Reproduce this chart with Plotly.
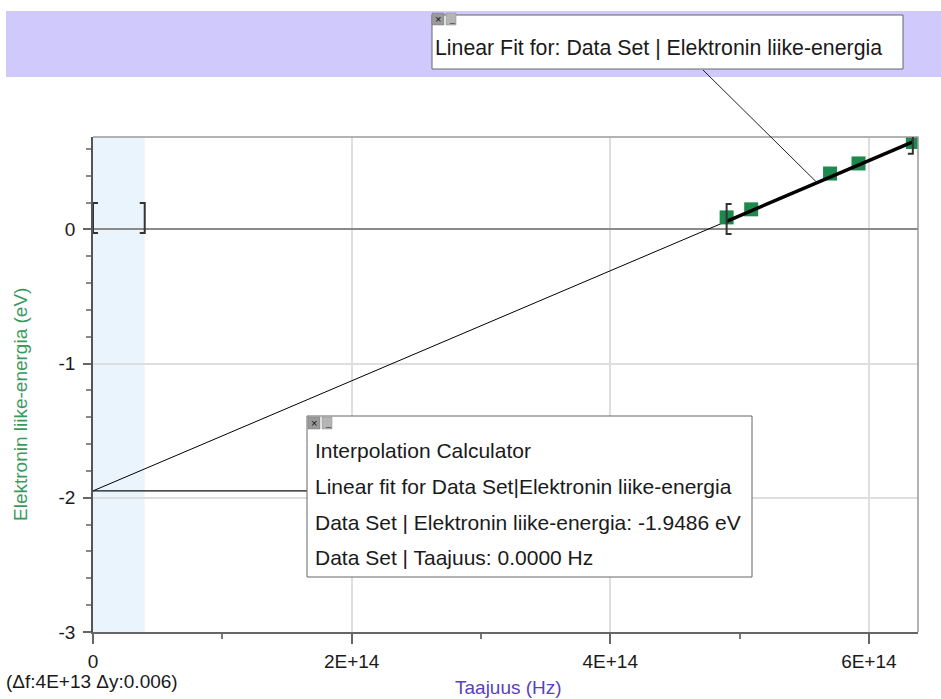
import plotly.graph_objects as go

# ---------------- data ----------------
freq_hz = [4.90e14, 5.09e14, 5.70e14, 5.92e14, 6.34e14]
energy_ev = [0.089, 0.149, 0.416, 0.491, 0.651]

fit_x = [0.0, 4.90e14, 6.34e14]
fit_y = [-1.9486, 0.060, 0.651]

interp_range = [0.0, 4.0e13]
interp_bracket_y = 0.084
fit_range = [4.90e14, 6.34e14]
fit_bracket_y = [0.077, 0.675]
interp_value = -1.9486

x_tickvals = [0, 2e14, 4e14, 6e14]
x_ticktext = ["0", "2E+14", "4E+14", "6E+14"]
y_tickvals = [-3, -2, -1, 0]
y_ticktext = ["-3", "-2", "-1", "0"]

x_range = [0, 6.38e14]
y_range = [-3, 0.688]

# ---------------- layout geometry ----------------
W, H = 941, 699
L, R, T, B = 93, 918, 137, 632
PW, PH = R - L, B - T


def px(x):
    return (x - L) / PW


def py(y):
    return (B - y) / PH


def dx(v):
    return (v - x_range[0]) / (x_range[1] - x_range[0])


def dy(v):
    return (v - y_range[0]) / (y_range[1] - y_range[0])


FONT = "Liberation Sans, Arial, Helvetica, sans-serif"

fig = go.Figure()

fig.add_trace(go.Scatter(x=fit_x[:2], y=fit_y[:2], mode="lines",
                         line=dict(color="black", width=1), hoverinfo="skip",
                         showlegend=False))
fig.add_trace(go.Scatter(x=freq_hz, y=energy_ev, mode="markers",
                         marker=dict(symbol="square", size=14, color="#1d8a4d"),
                         showlegend=False))
fig.add_trace(go.Scatter(x=fit_x[1:], y=fit_y[1:], mode="lines",
                         line=dict(color="black", width=3.5), hoverinfo="skip",
                         showlegend=False))

shapes = []
# interpolation shaded region
shapes.append(dict(type="rect", xref="x", yref="paper", x0=interp_range[0], x1=interp_range[1],
                   y0=0, y1=1, fillcolor="#eaf4fd", line=dict(width=0), layer="below"))
# top/right border
shapes.append(dict(type="path", xref="paper", yref="paper",
                   path="M 0,1 L 1,1 L 1,0", line=dict(color="#9a9a9a", width=1.5), layer="above"))
# top band
shapes.append(dict(type="rect", xref="paper", yref="paper", x0=px(6), x1=px(945),
                   y0=py(77), y1=py(11), fillcolor="#cfc9fc", line=dict(width=0), layer="above"))


def bracket(xv, yv, side):
    s = 5 if side == "[" else -5
    return dict(type="path", xref="x", yref="y", xsizemode="pixel", ysizemode="pixel",
                xanchor=xv, yanchor=yv,
                path=f"M {s},15 L 0,15 L 0,-15 L {s},-15",
                line=dict(color="#333333", width=2), layer="above")


shapes.append(bracket(interp_range[0], interp_bracket_y, "["))
shapes.append(bracket(interp_range[1], interp_bracket_y, "]"))
shapes.append(bracket(fit_range[0], fit_bracket_y[0], "["))
shapes.append(bracket(fit_range[1], fit_bracket_y[1], "]"))

# leader line from top box to fit line
lead_x = 5.60e14
lead_y = fit_y[1] + (fit_y[2] - fit_y[1]) * (lead_x - fit_x[1]) / (fit_x[2] - fit_x[1])
shapes.append(dict(type="line", xref="paper", yref="paper", x0=px(703), y0=py(70),
                   x1=dx(lead_x), y1=dy(lead_y), line=dict(color="#222", width=1), layer="above"))
# interpolation leader (horizontal at interpolated value)
shapes.append(dict(type="line", xref="paper", yref="paper", x0=dx(0), y0=dy(interp_value),
                   x1=px(307), y1=dy(interp_value), line=dict(color="#111", width=1.2), layer="above"))

# boxes
shapes.append(dict(type="rect", xref="paper", yref="paper", x0=px(432), x1=px(903),
                   y0=py(69), y1=py(15), fillcolor="white", line=dict(color="#666", width=1), layer="above"))
shapes.append(dict(type="rect", xref="paper", yref="paper", x0=px(307), x1=px(752),
                   y0=py(577), y1=py(416), fillcolor="white", line=dict(color="#666", width=1), layer="above"))


def icons(x, y):
    out = []
    out.append(dict(type="rect", xref="paper", yref="paper", x0=px(x), x1=px(x + 12),
                    y0=py(y + 12), y1=py(y), fillcolor="#9a9a9a", line=dict(color="#777", width=0.5),
                    layer="above"))
    out.append(dict(type="rect", xref="paper", yref="paper", x0=px(x + 14), x1=px(x + 24),
                    y0=py(y + 12), y1=py(y), fillcolor="#b5b5b5", line=dict(color="#888", width=0.5),
                    layer="above"))
    return out


shapes += icons(432, 13)
shapes += icons(308, 417)

annotations = []


def txt(x, y, s, size=20, color="#1a1a1a", xanchor="left", angle=0):
    annotations.append(dict(xref="paper", yref="paper", x=px(x), y=py(y), text=s, showarrow=False,
                            xanchor=xanchor, yanchor="middle", textangle=angle,
                            font=dict(family=FONT, size=size, color=color)))


txt(438, 19, "×", size=11, color="#111", xanchor="center")
txt(452, 19, "_", size=9, color="#333", xanchor="center")
txt(314, 423, "×", size=11, color="#111", xanchor="center")
txt(328, 423, "_", size=9, color="#333", xanchor="center")

txt(433, 48, "Linear Fit for: Data Set | Elektronin liike-energia", size=21.3)
txt(313, 450, "Interpolation Calculator", size=21)
txt(313, 486, "Linear fit for Data Set|Elektronin liike-energia", size=21)
txt(313, 522, f"Data Set | Elektronin liike-energia: {interp_value:.4f} eV", size=21)
txt(313, 557, "Data Set | Taajuus: 0.0000 Hz", size=21)

txt(508, 687, "Taajuus (Hz)", size=19, color="#5a3fc0", xanchor="center")
txt(4, 681, "(Δf:4E+13 Δy:0.006)", size=19, color="#1a1a1a")
txt(21, 405, "Elektronin liike-energia (eV)", size=19, color="#3a9a5e", xanchor="center", angle=-90)

fig.update_layout(
    width=W, height=H, autosize=False,
    margin=dict(l=L, r=W - R, t=T, b=H - B, pad=0),
    paper_bgcolor="white", plot_bgcolor="white",
    font=dict(family=FONT, size=19, color="#1a1a1a"),
    shapes=shapes, annotations=annotations,
    showlegend=False,
)
fig.update_xaxes(range=x_range, tickvals=x_tickvals, ticktext=x_ticktext,
                 showgrid=True, gridcolor="#dedede", gridwidth=2,
                 zeroline=False, showline=True, linecolor="#666", linewidth=1.5,
                 ticks="outside", ticklen=10, tickwidth=1.5, tickcolor="#666",
                 ticklabelstandoff=1,
                 minor=dict(dtick=1e14, tick0=0, ticks="outside", ticklen=5, tickcolor="#777",
                            showgrid=False),
                 tickfont=dict(size=19, color="#1a1a1a"))
fig.update_yaxes(range=y_range, tickvals=y_tickvals, ticktext=y_ticktext,
                 showgrid=True, gridcolor="#dedede", gridwidth=2,
                 zeroline=True, zerolinecolor="#8a8a8a", zerolinewidth=2,
                 showline=True, linecolor="#555", linewidth=1.5,
                 ticks="outside", ticklen=8, tickwidth=1.5, tickcolor="#666",
                 ticklabelstandoff=4,
                 minor=dict(dtick=0.2, tick0=0, ticks="outside", ticklen=5, tickcolor="#888",
                            showgrid=False),
                 tickfont=dict(size=19, color="#1a1a1a"))

fig.write_html("out.html", config={"displayModeBar": False},
               post_script="document.body.style.margin='0px';document.body.style.overflow='hidden';")
